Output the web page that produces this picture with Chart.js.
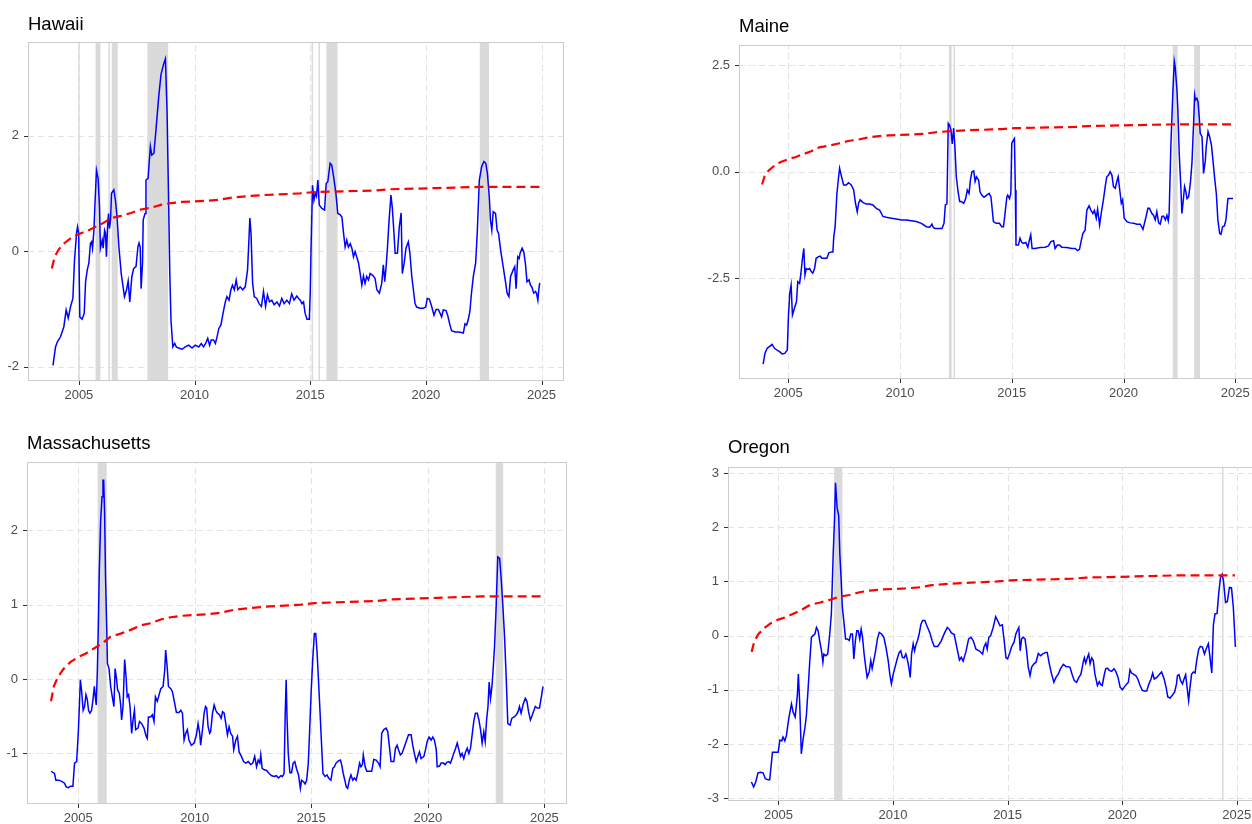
<!DOCTYPE html>
<html>
<head>
<meta charset="utf-8">
<script src="https://cdn.jsdelivr.net/npm/chart.js@4.4.1/dist/chart.umd.min.js"></script>
<style>
  html, body { margin: 0; padding: 0; background: #ffffff; }
  body { width: 1252px; height: 824px; overflow: hidden; position: relative; }
  canvas { position: absolute; }
</style>
</head>
<body>
<canvas id="hawaii"></canvas>
<canvas id="maine"></canvas>
<canvas id="massachusetts"></canvas>
<canvas id="oregon"></canvas>
<script>
// ---- data ----
const yearTicks = [2005, 2010, 2015, 2020, 2025];

// Shared threshold curve (red dashed line)
const thresholdDates  = [2003.83, 2003.95, 2004.13, 2004.38, 2004.67, 2005.03, 2005.31, 2005.67, 2006.03, 2006.39, 2006.82, 2007.25, 2007.68, 2008.11, 2008.54, 2008.97, 2009.47, 2009.97, 2010.54, 2011.11, 2011.69, 2012.26, 2012.98, 2013.55, 2014.12, 2014.56, 2015.13, 2015.99, 2016.99, 2017.85, 2018.42, 2019.42, 2020.43, 2021.29, 2022.29, 2023.15, 2024.00, 2024.92];
const thresholdValues = [-0.30, -0.10, 0.03, 0.14, 0.23, 0.30, 0.34, 0.41, 0.48, 0.57, 0.61, 0.66, 0.72, 0.75, 0.80, 0.83, 0.85, 0.86, 0.87, 0.89, 0.93, 0.95, 0.97, 0.98, 0.99, 1.00, 1.02, 1.03, 1.04, 1.05, 1.07, 1.08, 1.09, 1.10, 1.11, 1.11, 1.11, 1.11];

// Hawaii
const hawaiiDates = [2003.88, 2003.99, 2004.07, 2004.21, 2004.35, 2004.45, 2004.54, 2004.64, 2004.74, 2004.81, 2004.90, 2004.94, 2004.99, 2005.04, 2005.14, 2005.23, 2005.29, 2005.36, 2005.43, 2005.50, 2005.55, 2005.59, 2005.65, 2005.69, 2005.76, 2005.83, 2005.89, 2005.93, 2006.01, 2006.05, 2006.11, 2006.15, 2006.19, 2006.24, 2006.28, 2006.32, 2006.37, 2006.41, 2006.51, 2006.58, 2006.65, 2006.73, 2006.83, 2006.97, 2007.06, 2007.13, 2007.20, 2007.29, 2007.37, 2007.47, 2007.55, 2007.60, 2007.65, 2007.69, 2007.75, 2007.78, 2007.86, 2007.90, 2007.99, 2008.09, 2008.15, 2008.24, 2008.32, 2008.45, 2008.55, 2008.67, 2008.74, 2008.81, 2008.87, 2008.93, 2008.98, 2009.06, 2009.14, 2009.21, 2009.31, 2009.46, 2009.60, 2009.75, 2009.89, 2010.03, 2010.18, 2010.29, 2010.39, 2010.49, 2010.57, 2010.65, 2010.72, 2010.82, 2010.90, 2010.97, 2011.05, 2011.14, 2011.23, 2011.33, 2011.40, 2011.49, 2011.57, 2011.64, 2011.72, 2011.80, 2011.87, 2011.97, 2012.08, 2012.19, 2012.29, 2012.35, 2012.39, 2012.44, 2012.51, 2012.58, 2012.69, 2012.79, 2012.89, 2012.98, 2013.07, 2013.15, 2013.24, 2013.34, 2013.44, 2013.56, 2013.67, 2013.77, 2013.87, 2013.99, 2014.10, 2014.20, 2014.30, 2014.42, 2014.50, 2014.57, 2014.64, 2014.71, 2014.78, 2014.86, 2014.96, 2015.00, 2015.04, 2015.10, 2015.16, 2015.22, 2015.27, 2015.33, 2015.39, 2015.50, 2015.62, 2015.69, 2015.76, 2015.86, 2015.93, 2016.01, 2016.11, 2016.19, 2016.29, 2016.37, 2016.44, 2016.51, 2016.58, 2016.65, 2016.73, 2016.80, 2016.87, 2016.94, 2017.01, 2017.09, 2017.16, 2017.23, 2017.30, 2017.37, 2017.44, 2017.52, 2017.59, 2017.70, 2017.80, 2017.88, 2017.99, 2018.09, 2018.16, 2018.22, 2018.28, 2018.34, 2018.41, 2018.49, 2018.55, 2018.62, 2018.67, 2018.77, 2018.85, 2018.93, 2018.98, 2019.06, 2019.14, 2019.24, 2019.31, 2019.39, 2019.46, 2019.53, 2019.60, 2019.75, 2019.89, 2019.99, 2020.06, 2020.15, 2020.25, 2020.35, 2020.44, 2020.54, 2020.68, 2020.75, 2020.87, 2020.94, 2021.04, 2021.11, 2021.26, 2021.40, 2021.54, 2021.62, 2021.69, 2021.76, 2021.83, 2021.90, 2021.97, 2022.05, 2022.15, 2022.22, 2022.31, 2022.41, 2022.51, 2022.59, 2022.66, 2022.74, 2022.79, 2022.85, 2022.91, 2023.01, 2023.08, 2023.14, 2023.23, 2023.34, 2023.44, 2023.51, 2023.59, 2023.66, 2023.77, 2023.84, 2023.90, 2023.97, 2024.03, 2024.07, 2024.16, 2024.23, 2024.30, 2024.37, 2024.46, 2024.52, 2024.59, 2024.66, 2024.74, 2024.78, 2024.84, 2024.88, 2024.92];
const hawaiiValues = [-1.98, -1.66, -1.57, -1.48, -1.31, -1.02, -1.16, -0.96, -0.82, -0.16, 0.31, 0.42, 0.31, -1.14, -1.18, -1.08, -0.53, -0.33, -0.21, 0.13, 0.16, 0.05, 0.36, 0.77, 1.40, 1.26, 0.77, 0.05, 0.19, 0.05, 0.36, 0.31, -0.10, 0.42, 0.65, 0.39, 0.54, 1.00, 1.06, 0.88, 0.59, 0.07, -0.39, -0.79, -0.67, -0.52, -0.88, -0.44, -0.30, -0.27, 0.07, 0.14, 0.07, -0.65, -0.21, 0.54, 0.65, 1.23, 1.26, 1.81, 1.66, 1.69, 2.04, 2.67, 3.06, 3.25, 3.33, 2.44, 1.06, -0.39, -1.19, -1.66, -1.60, -1.66, -1.68, -1.70, -1.66, -1.63, -1.68, -1.63, -1.66, -1.60, -1.66, -1.59, -1.51, -1.63, -1.54, -1.54, -1.60, -1.49, -1.34, -1.28, -1.08, -0.88, -0.79, -0.85, -0.67, -0.59, -0.67, -0.50, -0.67, -0.62, -0.67, -0.62, -0.33, 0.19, 0.57, 0.31, -0.56, -0.79, -0.82, -0.91, -0.96, -0.70, -0.96, -0.76, -0.88, -0.85, -0.93, -0.88, -0.95, -0.82, -0.91, -0.85, -0.91, -0.74, -0.85, -0.78, -0.82, -0.85, -0.91, -0.88, -1.08, -1.18, -1.18, -0.73, 0.13, 1.14, 0.88, 1.00, 0.95, 1.23, 0.80, 0.74, 0.71, 1.17, 1.20, 1.52, 1.49, 1.29, 1.00, 0.65, 0.63, 0.59, 0.31, 0.07, 0.19, 0.07, 0.13, 0.05, -0.10, -0.01, -0.10, -0.21, -0.39, -0.59, -0.43, -0.56, -0.44, -0.50, -0.39, -0.42, -0.47, -0.67, -0.73, -0.56, -0.24, -0.53, -0.27, 0.07, 0.54, 0.97, 0.74, 0.31, -0.04, -0.04, 0.42, 0.66, -0.39, -0.21, 0.05, 0.16, -0.04, -0.44, -0.67, -0.91, -0.97, -0.99, -0.99, -0.97, -0.82, -0.83, -0.96, -1.11, -1.01, -1.01, -1.14, -1.02, -1.03, -1.11, -1.28, -1.38, -1.40, -1.40, -1.41, -1.42, -1.26, -1.28, -1.19, -1.05, -0.73, -0.44, -0.21, 0.31, 1.23, 1.46, 1.55, 1.52, 1.34, 0.94, 0.54, 0.36, 0.68, 0.65, 0.36, 0.31, 0.02, -0.27, -0.53, -0.73, -0.79, -0.44, -0.33, -0.27, -0.65, -0.10, -0.13, -0.04, 0.05, -0.01, -0.21, -0.53, -0.50, -0.59, -0.63, -0.73, -0.70, -0.73, -0.85, -0.67, -0.55];
const hawaiiShadeStart = [2005.00, 2005.72, 2006.31, 2006.42, 2007.96, 2015.09, 2015.39, 2015.70, 2022.33];
const hawaiiShadeEnd   = [2005.00, 2005.93, 2006.31, 2006.68, 2008.86, 2015.09, 2015.39, 2016.18, 2022.73];
const hawaiiYTicks = [-2, 0, 2];
const hawaiiYLabels = ['-2', '0', '2'];

// Maine
const maineDates = [2003.88, 2003.96, 2004.06, 2004.16, 2004.28, 2004.39, 2004.49, 2004.61, 2004.73, 2004.85, 2004.96, 2005.01, 2005.07, 2005.13, 2005.19, 2005.28, 2005.37, 2005.43, 2005.51, 2005.57, 2005.63, 2005.70, 2005.75, 2005.81, 2005.88, 2005.96, 2006.03, 2006.10, 2006.18, 2006.25, 2006.36, 2006.43, 2006.51, 2006.73, 2006.82, 2006.93, 2007.00, 2007.04, 2007.10, 2007.18, 2007.24, 2007.30, 2007.37, 2007.48, 2007.60, 2007.70, 2007.82, 2007.93, 2008.01, 2008.09, 2008.15, 2008.22, 2008.34, 2008.49, 2008.64, 2008.79, 2008.94, 2009.09, 2009.24, 2009.39, 2009.61, 2009.84, 2010.06, 2010.28, 2010.51, 2010.73, 2010.96, 2011.18, 2011.33, 2011.43, 2011.48, 2011.55, 2011.88, 2011.97, 2012.03, 2012.10, 2012.16, 2012.22, 2012.28, 2012.34, 2012.40, 2012.45, 2012.52, 2012.60, 2012.67, 2012.75, 2012.85, 2012.94, 2013.01, 2013.09, 2013.15, 2013.22, 2013.30, 2013.36, 2013.42, 2013.52, 2013.58, 2013.66, 2013.76, 2013.88, 2013.99, 2014.07, 2014.18, 2014.30, 2014.45, 2014.55, 2014.63, 2014.70, 2014.78, 2014.82, 2014.90, 2014.96, 2015.00, 2015.07, 2015.12, 2015.16, 2015.19, 2015.30, 2015.37, 2015.45, 2015.52, 2015.63, 2015.72, 2015.79, 2015.85, 2015.91, 2016.04, 2016.27, 2016.49, 2016.64, 2016.75, 2016.87, 2016.94, 2017.04, 2017.13, 2017.24, 2017.46, 2017.69, 2017.84, 2017.94, 2018.03, 2018.10, 2018.18, 2018.28, 2018.36, 2018.46, 2018.54, 2018.63, 2018.70, 2018.78, 2018.84, 2018.93, 2019.00, 2019.10, 2019.18, 2019.25, 2019.33, 2019.40, 2019.48, 2019.55, 2019.63, 2019.70, 2019.76, 2019.84, 2019.90, 2019.96, 2020.03, 2020.15, 2020.30, 2020.45, 2020.60, 2020.75, 2020.87, 2020.94, 2021.01, 2021.09, 2021.16, 2021.27, 2021.34, 2021.42, 2021.49, 2021.57, 2021.64, 2021.72, 2021.79, 2021.87, 2021.94, 2022.00, 2022.04, 2022.12, 2022.21, 2022.27, 2022.31, 2022.39, 2022.43, 2022.49, 2022.57, 2022.61, 2022.66, 2022.73, 2022.79, 2022.84, 2022.91, 2022.99, 2023.06, 2023.14, 2023.18, 2023.22, 2023.28, 2023.33, 2023.39, 2023.43, 2023.51, 2023.58, 2023.66, 2023.70, 2023.78, 2023.85, 2023.93, 2024.00, 2024.07, 2024.15, 2024.22, 2024.30, 2024.36, 2024.43, 2024.51, 2024.58, 2024.67, 2024.78, 2024.90];
const maineValues = [-4.51, -4.26, -4.14, -4.10, -4.05, -4.14, -4.18, -4.22, -4.27, -4.26, -4.18, -3.40, -2.85, -2.66, -3.36, -3.20, -3.05, -2.58, -2.62, -2.38, -2.07, -1.80, -2.42, -2.27, -2.29, -2.27, -2.34, -2.38, -2.27, -2.03, -1.99, -1.98, -2.03, -2.03, -1.90, -1.88, -1.88, -1.52, -1.29, -0.51, -0.20, 0.08, -0.08, -0.31, -0.31, -0.26, -0.31, -0.43, -0.74, -0.94, -0.74, -0.66, -0.72, -0.76, -0.76, -0.78, -0.86, -0.90, -1.05, -1.07, -1.09, -1.11, -1.13, -1.13, -1.15, -1.17, -1.21, -1.29, -1.30, -1.23, -1.30, -1.33, -1.33, -1.21, -0.78, -0.76, 1.13, 1.09, 0.98, 0.65, 1.02, 0.66, -0.12, -0.47, -0.70, -0.70, -0.74, -0.63, -0.43, -0.51, -0.20, 0.00, 0.02, -0.23, -0.12, -0.20, -0.47, -0.55, -0.60, -0.55, -0.51, -0.59, -1.17, -1.21, -1.21, -1.29, -1.29, -0.98, -0.59, -0.55, -0.63, -0.51, 0.66, 0.74, 0.78, -0.43, -1.72, -1.72, -1.56, -1.66, -1.68, -1.66, -1.77, -1.60, -1.48, -1.80, -1.80, -1.78, -1.77, -1.74, -1.64, -1.62, -1.80, -1.72, -1.72, -1.77, -1.78, -1.80, -1.80, -1.85, -1.82, -1.64, -1.45, -1.37, -0.90, -0.80, -0.90, -0.98, -0.91, -1.09, -0.88, -1.25, -0.98, -0.66, -0.35, -0.12, -0.08, 0.00, -0.08, -0.35, -0.39, -0.23, -0.12, -0.47, -0.74, -0.66, -1.09, -1.17, -1.20, -1.21, -1.23, -1.23, -1.35, -1.20, -1.05, -0.86, -0.86, -0.98, -1.02, -1.13, -0.94, -1.20, -1.23, -1.05, -1.04, -1.13, -1.02, -1.15, -0.98, 0.66, 1.91, 2.59, 2.46, 1.91, 1.45, 0.43, -0.43, -0.98, -0.74, -0.35, -0.47, -0.63, -0.59, -0.27, 0.20, 1.21, 1.80, 1.68, 1.72, 1.64, 1.25, 0.90, 0.82, -0.04, 0.27, 0.59, 0.94, 0.82, 0.63, 0.27, -0.12, -0.51, -1.13, -1.45, -1.47, -1.29, -1.27, -1.13, -0.63, -0.63, -0.63];
const maineShadeStart = [2012.19, 2012.43, 2022.20, 2023.16];
const maineShadeEnd   = [2012.31, 2012.43, 2022.42, 2023.42];
const maineYTicks = [-2.5, 0, 2.5];
const maineYLabels = ['-2.5', '0.0', '2.5'];

// Massachusetts
const massachusettsDates = [2003.84, 2003.93, 2003.98, 2004.04, 2004.17, 2004.31, 2004.41, 2004.48, 2004.57, 2004.67, 2004.77, 2004.84, 2004.93, 2005.00, 2005.04, 2005.09, 2005.14, 2005.21, 2005.27, 2005.33, 2005.39, 2005.44, 2005.50, 2005.57, 2005.63, 2005.69, 2005.73, 2005.77, 2005.82, 2005.86, 2005.90, 2005.96, 2006.02, 2006.06, 2006.09, 2006.13, 2006.17, 2006.22, 2006.25, 2006.32, 2006.39, 2006.46, 2006.53, 2006.58, 2006.63, 2006.69, 2006.76, 2006.82, 2006.86, 2006.92, 2006.99, 2007.05, 2007.10, 2007.16, 2007.22, 2007.29, 2007.35, 2007.41, 2007.46, 2007.56, 2007.63, 2007.72, 2007.82, 2007.91, 2007.96, 2008.01, 2008.11, 2008.18, 2008.25, 2008.31, 2008.39, 2008.47, 2008.54, 2008.64, 2008.71, 2008.75, 2008.82, 2008.87, 2008.97, 2009.04, 2009.14, 2009.21, 2009.32, 2009.40, 2009.47, 2009.54, 2009.61, 2009.68, 2009.75, 2009.85, 2009.97, 2010.07, 2010.14, 2010.21, 2010.25, 2010.33, 2010.40, 2010.46, 2010.51, 2010.57, 2010.64, 2010.68, 2010.76, 2010.83, 2010.90, 2010.97, 2011.06, 2011.13, 2011.19, 2011.26, 2011.33, 2011.40, 2011.47, 2011.54, 2011.62, 2011.67, 2011.76, 2011.83, 2011.90, 2012.00, 2012.09, 2012.19, 2012.29, 2012.40, 2012.49, 2012.57, 2012.65, 2012.72, 2012.79, 2012.83, 2012.89, 2012.98, 2013.08, 2013.19, 2013.30, 2013.41, 2013.50, 2013.59, 2013.69, 2013.76, 2013.83, 2013.88, 2013.92, 2013.96, 2014.01, 2014.08, 2014.15, 2014.22, 2014.29, 2014.36, 2014.45, 2014.53, 2014.58, 2014.66, 2014.73, 2014.80, 2014.87, 2014.93, 2014.99, 2015.06, 2015.13, 2015.19, 2015.24, 2015.30, 2015.37, 2015.43, 2015.50, 2015.59, 2015.67, 2015.74, 2015.84, 2015.92, 2015.99, 2016.06, 2016.16, 2016.25, 2016.30, 2016.37, 2016.45, 2016.50, 2016.56, 2016.63, 2016.70, 2016.78, 2016.85, 2016.92, 2016.99, 2017.07, 2017.13, 2017.19, 2017.23, 2017.31, 2017.38, 2017.59, 2017.68, 2017.78, 2017.88, 2017.95, 2018.02, 2018.11, 2018.21, 2018.28, 2018.35, 2018.42, 2018.54, 2018.61, 2018.68, 2018.74, 2018.82, 2018.89, 2018.97, 2019.07, 2019.17, 2019.28, 2019.35, 2019.42, 2019.50, 2019.57, 2019.64, 2019.71, 2019.83, 2019.90, 2019.97, 2020.05, 2020.14, 2020.21, 2020.28, 2020.36, 2020.40, 2020.50, 2020.57, 2020.67, 2020.74, 2020.81, 2020.90, 2020.97, 2021.04, 2021.11, 2021.19, 2021.26, 2021.33, 2021.40, 2021.47, 2021.54, 2021.62, 2021.69, 2021.76, 2021.83, 2021.90, 2021.97, 2022.04, 2022.12, 2022.19, 2022.26, 2022.33, 2022.40, 2022.46, 2022.52, 2022.58, 2022.63, 2022.69, 2022.75, 2022.79, 2022.86, 2022.93, 2023.00, 2023.08, 2023.15, 2023.22, 2023.29, 2023.36, 2023.43, 2023.53, 2023.60, 2023.70, 2023.80, 2023.87, 2023.93, 2024.00, 2024.08, 2024.18, 2024.25, 2024.32, 2024.40, 2024.45, 2024.53, 2024.61, 2024.69, 2024.79, 2024.87, 2024.94];
const massachusettsValues = [-1.24, -1.26, -1.27, -1.36, -1.36, -1.38, -1.40, -1.45, -1.46, -1.44, -1.44, -1.13, -1.11, -0.73, -0.42, -0.01, -0.15, -0.42, -0.37, -0.21, -0.28, -0.42, -0.46, -0.42, -0.28, -0.10, -0.24, -0.35, 0.12, 0.70, 1.42, 2.13, 2.45, 2.67, 2.67, 2.22, 1.37, 0.70, 0.21, 0.14, -0.10, -0.24, -0.37, 0.14, 0.03, -0.15, -0.19, -0.35, -0.55, -0.37, 0.26, 0.03, -0.24, -0.21, -0.37, -0.73, -0.55, -0.42, -0.68, -0.66, -0.57, -0.60, -0.66, -0.77, -0.80, -0.51, -0.51, -0.48, -0.57, -0.24, -0.30, -0.21, -0.13, -0.10, 0.12, 0.39, 0.14, -0.10, -0.13, -0.17, -0.33, -0.45, -0.45, -0.42, -0.46, -0.82, -0.73, -0.68, -0.82, -0.89, -0.86, -0.75, -0.60, -0.73, -0.89, -0.68, -0.46, -0.37, -0.39, -0.64, -0.73, -0.71, -0.46, -0.35, -0.42, -0.46, -0.48, -0.53, -0.44, -0.46, -0.60, -0.75, -0.64, -0.73, -0.77, -0.95, -0.82, -0.77, -0.98, -1.04, -1.11, -1.13, -1.11, -1.15, -1.13, -1.04, -1.18, -1.09, -1.13, -1.02, -1.20, -1.22, -1.23, -1.27, -1.30, -1.31, -1.30, -1.33, -1.30, -1.31, -1.27, -0.46, -0.01, -0.55, -1.00, -1.26, -1.26, -1.13, -1.11, -1.20, -1.29, -1.47, -1.36, -1.38, -1.41, -1.36, -1.13, -0.68, -0.19, 0.26, 0.61, 0.61, 0.39, 0.03, -0.42, -0.82, -1.27, -1.31, -1.29, -1.33, -1.36, -1.20, -1.18, -1.13, -1.10, -1.09, -1.15, -1.27, -1.38, -1.45, -1.47, -1.36, -1.29, -1.36, -1.33, -1.36, -1.27, -1.13, -1.18, -1.15, -1.02, -1.18, -1.24, -1.24, -1.08, -1.09, -1.13, -1.18, -0.73, -0.68, -0.66, -0.71, -0.91, -1.11, -1.11, -0.93, -0.89, -0.95, -1.02, -1.00, -0.93, -0.84, -0.75, -0.75, -0.89, -1.00, -1.11, -1.04, -0.98, -1.07, -1.04, -0.95, -0.84, -0.78, -0.82, -0.78, -0.82, -0.95, -1.18, -1.17, -1.13, -1.13, -1.15, -1.12, -1.11, -1.13, -1.07, -1.00, -0.93, -0.86, -0.95, -1.04, -1.00, -1.07, -0.98, -0.93, -1.00, -0.93, -0.75, -0.57, -0.46, -0.46, -0.55, -0.68, -0.86, -0.71, -0.84, -0.55, -0.37, -0.04, -0.26, -0.10, 0.08, 0.43, 0.97, 1.64, 1.62, 1.33, 0.97, 0.57, 0.03, -0.60, -0.62, -0.53, -0.51, -0.48, -0.44, -0.37, -0.46, -0.35, -0.26, -0.30, -0.44, -0.55, -0.51, -0.44, -0.37, -0.39, -0.39, -0.24, -0.10];
const massachusettsShadeStart = [2005.83, 2022.91];
const massachusettsShadeEnd   = [2006.22, 2023.23];
const massachusettsYTicks = [-1, 0, 1, 2];
const massachusettsYLabels = ['-1', '0', '1', '2'];

// Oregon
const oregonDates = [2003.82, 2003.92, 2004.01, 2004.11, 2004.21, 2004.33, 2004.43, 2004.55, 2004.62, 2004.74, 2004.99, 2005.06, 2005.15, 2005.20, 2005.28, 2005.35, 2005.44, 2005.49, 2005.57, 2005.64, 2005.73, 2005.79, 2005.83, 2005.87, 2005.93, 2006.00, 2006.08, 2006.16, 2006.22, 2006.30, 2006.37, 2006.44, 2006.51, 2006.59, 2006.66, 2006.73, 2006.80, 2006.88, 2006.94, 2006.98, 2007.07, 2007.15, 2007.24, 2007.31, 2007.39, 2007.45, 2007.49, 2007.56, 2007.63, 2007.68, 2007.74, 2007.79, 2007.85, 2007.93, 2008.00, 2008.09, 2008.16, 2008.23, 2008.29, 2008.36, 2008.42, 2008.48, 2008.55, 2008.61, 2008.67, 2008.74, 2008.81, 2008.87, 2008.96, 2009.03, 2009.09, 2009.16, 2009.24, 2009.32, 2009.40, 2009.50, 2009.60, 2009.69, 2009.79, 2009.86, 2009.93, 2010.01, 2010.09, 2010.18, 2010.27, 2010.34, 2010.41, 2010.49, 2010.56, 2010.62, 2010.69, 2010.75, 2010.81, 2010.88, 2010.94, 2011.00, 2011.07, 2011.14, 2011.22, 2011.29, 2011.39, 2011.46, 2011.61, 2011.71, 2011.80, 2011.95, 2012.10, 2012.25, 2012.37, 2012.45, 2012.55, 2012.67, 2012.80, 2012.90, 2012.98, 2013.06, 2013.18, 2013.30, 2013.40, 2013.50, 2013.62, 2013.76, 2013.91, 2013.97, 2014.05, 2014.11, 2014.18, 2014.26, 2014.37, 2014.48, 2014.56, 2014.67, 2014.77, 2014.85, 2014.93, 2015.00, 2015.10, 2015.17, 2015.28, 2015.36, 2015.42, 2015.49, 2015.55, 2015.61, 2015.68, 2015.76, 2015.83, 2015.90, 2015.98, 2016.05, 2016.15, 2016.24, 2016.34, 2016.44, 2016.56, 2016.66, 2016.73, 2016.82, 2016.92, 2017.02, 2017.11, 2017.21, 2017.31, 2017.43, 2017.55, 2017.72, 2017.82, 2017.91, 2018.01, 2018.11, 2018.20, 2018.30, 2018.35, 2018.41, 2018.48, 2018.54, 2018.60, 2018.67, 2018.74, 2018.81, 2018.92, 2019.00, 2019.06, 2019.13, 2019.21, 2019.28, 2019.35, 2019.44, 2019.54, 2019.64, 2019.72, 2019.82, 2019.91, 2020.01, 2020.09, 2020.20, 2020.27, 2020.34, 2020.41, 2020.49, 2020.60, 2020.68, 2020.78, 2020.88, 2020.97, 2021.07, 2021.17, 2021.26, 2021.33, 2021.40, 2021.51, 2021.61, 2021.72, 2021.83, 2021.91, 2021.99, 2022.09, 2022.19, 2022.29, 2022.37, 2022.41, 2022.48, 2022.55, 2022.63, 2022.70, 2022.77, 2022.83, 2022.90, 2022.96, 2023.03, 2023.11, 2023.18, 2023.25, 2023.34, 2023.41, 2023.50, 2023.59, 2023.66, 2023.76, 2023.84, 2023.91, 2023.98, 2024.05, 2024.14, 2024.21, 2024.29, 2024.36, 2024.42, 2024.51, 2024.59, 2024.68, 2024.77, 2024.85, 2024.94];
const oregonValues = [-2.70, -2.79, -2.70, -2.53, -2.52, -2.53, -2.64, -2.66, -2.66, -2.15, -2.15, -1.93, -1.94, -1.87, -1.94, -1.84, -1.56, -1.44, -1.26, -1.41, -1.50, -1.26, -1.07, -0.71, -1.26, -2.18, -1.90, -1.69, -1.47, -0.95, -0.46, -0.03, 0.00, 0.03, 0.15, 0.09, -0.09, -0.28, -0.49, -0.34, -0.37, -0.34, 0.03, 0.40, 1.50, 2.18, 2.82, 2.36, 2.21, 1.50, 1.01, 0.52, 0.28, -0.06, -0.06, -0.09, 0.03, 0.03, -0.43, -0.09, 0.09, 0.09, -0.06, 0.12, -0.03, -0.34, -0.58, -0.77, -0.67, -0.46, -0.61, -0.46, -0.28, -0.06, 0.06, 0.03, -0.03, -0.21, -0.46, -0.71, -0.89, -0.71, -0.58, -0.43, -0.31, -0.28, -0.40, -0.41, -0.34, -0.43, -0.58, -0.77, -0.34, -0.15, -0.28, -0.17, -0.09, 0.03, 0.21, 0.28, 0.28, 0.20, 0.05, -0.10, -0.20, -0.20, -0.10, 0.05, 0.15, 0.12, 0.05, 0.02, -0.25, -0.45, -0.40, -0.47, -0.30, -0.06, -0.03, -0.09, -0.25, -0.28, -0.34, -0.21, -0.14, -0.25, -0.03, 0.00, 0.15, 0.35, 0.28, 0.18, 0.20, -0.09, -0.41, -0.43, -0.31, -0.21, -0.12, 0.03, 0.09, 0.15, -0.28, -0.06, -0.03, -0.06, -0.28, -0.58, -0.74, -0.58, -0.52, -0.49, -0.33, -0.37, -0.33, -0.31, -0.31, -0.52, -0.71, -0.86, -0.77, -0.71, -0.61, -0.53, -0.57, -0.58, -0.72, -0.83, -0.86, -0.77, -0.71, -0.49, -0.41, -0.51, -0.41, -0.34, -0.52, -0.41, -0.46, -0.71, -0.92, -0.85, -0.90, -0.92, -0.74, -0.61, -0.60, -0.64, -0.66, -0.61, -0.66, -0.77, -0.95, -1.00, -0.95, -0.89, -0.86, -0.63, -0.69, -0.71, -0.74, -0.80, -0.92, -1.01, -1.02, -1.02, -0.89, -0.80, -0.69, -0.80, -0.77, -0.72, -0.67, -0.80, -0.94, -1.13, -1.15, -1.10, -1.04, -0.89, -0.74, -0.72, -0.83, -0.89, -0.80, -0.72, -0.95, -1.20, -0.95, -0.71, -0.67, -0.69, -0.46, -0.25, -0.20, -0.21, -0.34, -0.25, -0.15, -0.43, -0.69, 0.20, 0.40, 0.41, 0.77, 1.07, 1.13, 1.01, 0.61, 0.63, 0.89, 0.88, 0.52, -0.21];
const oregonShadeStart = [2007.43, 2024.39];
const oregonShadeEnd   = [2007.79, 2024.39];
const oregonYTicks = [-3, -2, -1, 0, 1, 2, 3];
const oregonYLabels = ['-3', '-2', '-1', '0', '1', '2', '3'];

// ---- layout & style ----
const FONT = "'Liberation Sans', Arial, Helvetica, sans-serif";
const TITLE_SIZE = 18.5;
const TITLE_HALF = TITLE_SIZE * 1.2 / 2;
const X_MIN = 2002.8, X_MAX = 2025.97;

const panels = [
  { id: 'hawaii', title: 'Hawaii', dates: hawaiiDates, values: hawaiiValues,
    shadeStart: hawaiiShadeStart, shadeEnd: hawaiiShadeEnd, yTicks: hawaiiYTicks, yLabels: hawaiiYLabels,
    yMin: -2.25, yMax: 3.62, area: { L: 28, T: 42, R: 564, B: 381 }, titleMid: 24.5, canvasLeft: 0 },
  { id: 'maine', title: 'Maine', dates: maineDates, values: maineValues,
    shadeStart: maineShadeStart, shadeEnd: maineShadeEnd, yTicks: maineYTicks, yLabels: maineYLabels,
    yMin: -4.86, yMax: 2.97, area: { L: 739, T: 45, R: 1257, B: 379 }, titleMid: 27, canvasLeft: 680 },
  { id: 'massachusetts', title: 'Massachusetts', dates: massachusettsDates, values: massachusettsValues,
    shadeStart: massachusettsShadeStart, shadeEnd: massachusettsShadeEnd, yTicks: massachusettsYTicks, yLabels: massachusettsYLabels,
    yMin: -1.68, yMax: 2.916, area: { L: 27, T: 462, R: 567, B: 804 }, titleMid: 444, canvasLeft: 0 },
  { id: 'oregon', title: 'Oregon', dates: oregonDates, values: oregonValues,
    shadeStart: oregonShadeStart, shadeEnd: oregonShadeEnd, yTicks: oregonYTicks, yLabels: oregonYLabels,
    yMin: -3.05, yMax: 3.11, area: { L: 728, T: 467, R: 1259, B: 801 }, titleMid: 447.5, canvasLeft: 680 }
];

const toPoints = (xs, ys) => xs.map((x, i) => ({ x: x, y: ys[i] }));

// Grid, shaded episodes, panel border and tick marks
function panelDecor(p) {
  return {
    id: 'panelDecor',
    beforeDatasetsDraw(chart) {
      const { ctx, chartArea: a, scales: { x, y } } = chart;
      ctx.save();
      // dashed major grid
      ctx.strokeStyle = '#e3e3e3';
      ctx.lineWidth = 1;
      ctx.setLineDash([6, 4]);
      ctx.beginPath();
      for (const v of yearTicks) {
        const px = Math.round(x.getPixelForValue(v)) + 0.5;
        ctx.moveTo(px, a.bottom); ctx.lineTo(px, a.top);
      }
      for (const v of p.yTicks) {
        const py = Math.round(y.getPixelForValue(v)) + 0.5;
        ctx.moveTo(a.left, py); ctx.lineTo(a.right, py);
      }
      ctx.stroke();
      ctx.setLineDash([]);
      // shaded episodes
      ctx.fillStyle = '#dadada';
      p.shadeStart.forEach((s, i) => {
        const x0 = x.getPixelForValue(s);
        const x1 = x.getPixelForValue(p.shadeEnd[i]);
        const w = Math.max(x1 - x0, 1.5);
        const left = x1 - x0 < 1.5 ? (x0 + x1) / 2 - 0.75 : x0;
        ctx.fillRect(left, a.top, w, a.bottom - a.top);
      });
      ctx.restore();
    },
    afterDraw(chart) {
      const { ctx, chartArea: a, scales: { x, y } } = chart;
      ctx.save();
      ctx.strokeStyle = '#cccccc';
      ctx.lineWidth = 1;
      ctx.strokeRect(a.left + 0.5, a.top + 0.5, a.right - a.left - 1, a.bottom - a.top - 1);
      ctx.strokeStyle = '#333333';
      ctx.beginPath();
      for (const v of yearTicks) {
        const px = Math.round(x.getPixelForValue(v)) + 0.5;
        ctx.moveTo(px, a.bottom); ctx.lineTo(px, a.bottom + 4);
      }
      for (const v of p.yTicks) {
        const py = Math.round(y.getPixelForValue(v)) + 0.5;
        ctx.moveTo(a.left - 4, py); ctx.lineTo(a.left, py);
      }
      ctx.stroke();
      ctx.restore();
    }
  };
}

panels.forEach(p => {
  const a = p.area;
  const canvasTop = Math.floor(p.titleMid - TITLE_HALF - 3);
  const padTop = p.titleMid - TITLE_HALF - canvasTop;
  const padBottom = a.T - (p.titleMid + TITLE_HALF);
  const xAxisH = 32;
  const yAxisW = a.L - p.canvasLeft;
  const cv = document.getElementById(p.id);
  cv.width = a.R - p.canvasLeft;
  cv.height = a.B - canvasTop + xAxisH;
  cv.style.left = p.canvasLeft + 'px';
  cv.style.top = canvasTop + 'px';

  new Chart(cv, {
    type: 'line',
    data: {
      datasets: [
        { label: 'threshold', data: toPoints(thresholdDates, thresholdValues),
          borderColor: '#ff0000', borderWidth: 2.2, borderDash: [9, 5],
          pointRadius: 0, fill: false, tension: 0 },
        { label: p.title, data: toPoints(p.dates, p.values),
          borderColor: '#0000ff', borderWidth: 1.5,
          pointRadius: 0, fill: false, tension: 0 }
      ]
    },
    options: {
      responsive: false,
      animation: false,
      devicePixelRatio: 1,
      layout: { padding: 0 },
      events: [],
      plugins: {
        legend: { display: false },
        tooltip: { enabled: false },
        title: {
          display: true, text: p.title, align: 'start', fullSize: false,
          color: '#000000',
          font: { family: FONT, size: TITLE_SIZE, weight: 'normal', lineHeight: 1.2 },
          padding: { top: padTop, bottom: padBottom }
        }
      },
      scales: {
        x: {
          type: 'linear', min: X_MIN, max: X_MAX, bounds: 'data',
          grid: { display: false, drawTicks: false },
          border: { display: false },
          ticks: { autoSkip: false, maxRotation: 0, padding: 7, color: '#4d4d4d',
                   font: { family: FONT, size: 13 }, callback: v => String(v) },
          afterBuildTicks: s => { s.ticks = yearTicks.map(v => ({ value: v })); },
          afterFit: s => { s.height = xAxisH; s.paddingLeft = 0; s.paddingRight = 0; }
        },
        y: {
          type: 'linear', min: p.yMin, max: p.yMax, bounds: 'data',
          grid: { display: false, drawTicks: false },
          border: { display: false },
          ticks: { autoSkip: false, padding: 9, color: '#4d4d4d',
                   font: { family: FONT, size: 13 }, callback: (v, i) => p.yLabels[i] },
          afterBuildTicks: s => { s.ticks = p.yTicks.map(v => ({ value: v })); },
          afterFit: s => { s.width = yAxisW; s.paddingTop = 0; s.paddingBottom = 0; }
        }
      }
    },
    plugins: [panelDecor(p)]
  });
});
</script>
</body>
</html>
